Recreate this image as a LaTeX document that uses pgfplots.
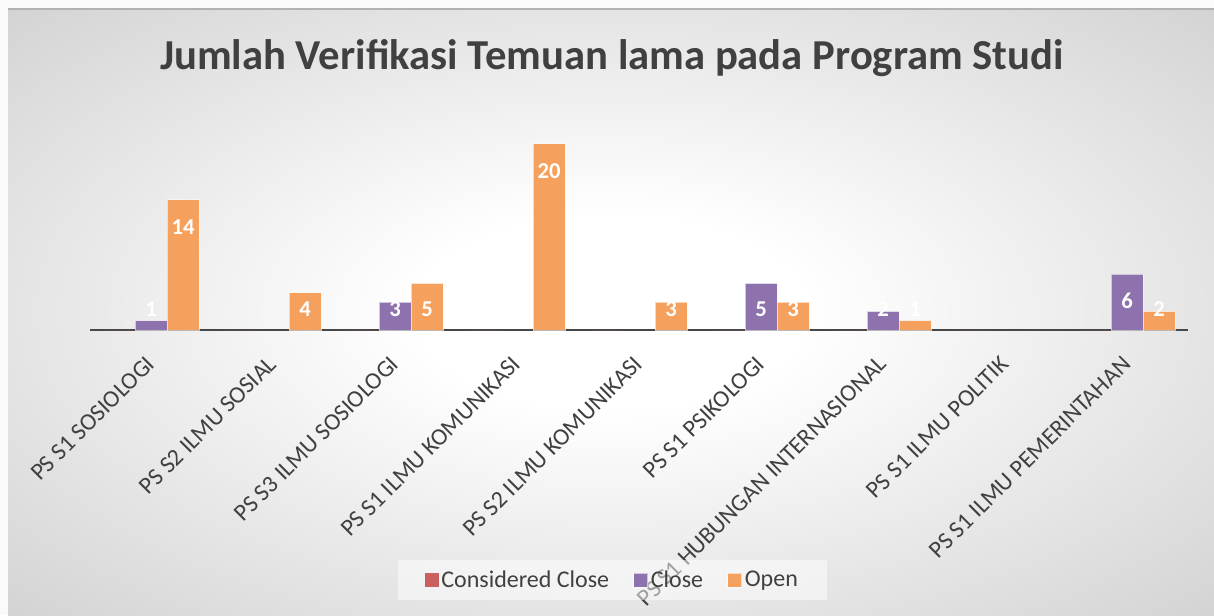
\documentclass[border=0pt]{standalone}
\usepackage{pgfplots}
\pgfplotsset{compat=1.18}
\usepackage{fontspec}
\setmainfont{Carlito}
\definecolor{ccred}{HTML}{C9605F}
\definecolor{clpur}{HTML}{8E72AD}
\definecolor{opora}{HTML}{F5A15D}
\definecolor{txt}{HTML}{404040}
\pgfdeclareradialshading{bgshade}{\pgfpoint{0bp}{0bp}}{color(0bp)=(white); color(8bp)=(white); color(40bp)=(black!20); color(71bp)=(black!30)}
\begin{document}
\begin{tikzpicture}[x=0.75pt,y=0.75pt]
\useasboundingbox (0,0) rectangle (1214,615);
\fill[black!2] (0,0) rectangle (1214,615);
\shade[shading=bgshade] (8,0) rectangle (1214,606);
\draw[black!30, line width=1.2pt] (8,606) -- (1214,606);
\node[font=\bfseries\fontsize{32}{36}\selectfont, text=txt] at (612,557) {Jumlah Verifikasi Temuan lama pada Program Studi};
\begin{axis}[
  at={(67.5pt,213.75pt)}, anchor=south west, scale only axis,
  width=823.5pt, height=146.5pt,
  xmin=-0.5, xmax=8.5, ymin=0, ymax=21,
  ybar=0pt, bar width=24pt,
  axis x line=bottom, axis y line=none,
  x axis line style={-, line width=2.2pt, color=black!72},
  xtick={0,...,8},
  xticklabels={PS S1 SOSIOLOGI, PS S2 ILMU SOSIAL, PS S3 ILMU SOSIOLOGI, PS S1 ILMU KOMUNIKASI, PS S2 ILMU KOMUNIKASI, PS S1 PSIKOLOGI, PS S1 HUBUNGAN INTERNASIONAL, PS S1 ILMU POLITIK, PS S1 ILMU PEMERINTAHAN},
  xtick style={draw=none}, ytick=\empty,
  xticklabel style={xshift=-4.5pt, yshift=-11.5pt, rotate=45, anchor=north east, font=\fontsize{18}{20}\selectfont, text=txt},
  /pgf/number format/assume math mode=true,
  clip=false,
  legend columns=-1,
  legend style={at={(0.476,-1.28)}, anchor=center, draw=none, fill=white, fill opacity=0.5, text opacity=1,
    font=\fontsize{18}{20}\selectfont, text=txt, inner xsep=20pt, inner ysep=6pt,
    /tikz/every even column/.append style={column sep=16pt}},
  legend image code/.code={\fill[#1, fill opacity=1] (0pt,-5.25pt) rectangle (10.5pt,5.25pt);},
  nodes near coords style={font=\bfseries\fontsize{17}{20}\selectfont, text=white, anchor=center, yshift={(max(\ry-2.9,2.26)-\ry)*6.975pt}},
  visualization depends on={rawy \as \ry},
]
\addplot[fill=ccred, draw=none] coordinates {(0,0) (1,0) (2,0) (3,0) (4,0) (5,0) (6,0) (7,0) (8,0)};
\addlegendentry{Considered Close}
\addplot[fill=clpur, draw=white, draw opacity=0.6, line width=0.75pt, nodes near coords] coordinates {(0,1) (2,3) (5,5) (6,2) (8,6)};
\addlegendentry{Close}
\addplot[fill=opora, draw=white, draw opacity=0.6, line width=0.75pt, nodes near coords] coordinates {(0,14) (1,4) (2,5) (3,20) (4,3) (5,3) (6,1) (8,2)};
\addlegendentry{Open}
\end{axis}
\end{tikzpicture}
\end{document}
